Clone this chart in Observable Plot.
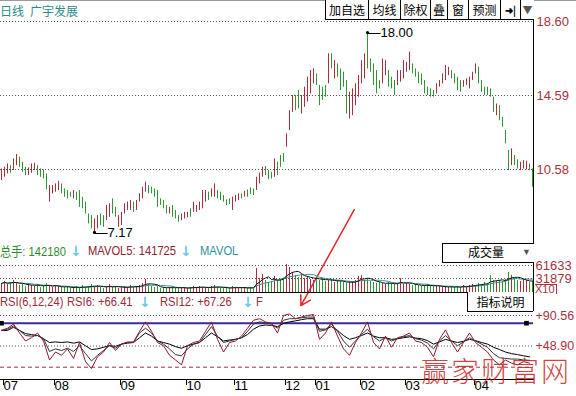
<!DOCTYPE html>
<html>
<head>
<meta charset="utf-8">
<script src="https://cdn.jsdelivr.net/npm/d3@7"></script>
<script src="https://cdn.jsdelivr.net/npm/@observablehq/plot@0.6"></script>
<style>
html,body{margin:0;padding:0;background:#fff;}
#chart{position:relative;width:576px;height:396px;overflow:hidden;background:#fff;}
#chart svg{position:absolute;left:0;top:0;}
.t{position:absolute;white-space:nowrap;font-family:"Liberation Sans",Arial,"Noto Sans CJK SC",sans-serif;font-size:13px;line-height:14px;}
.cond{transform:scaleX(0.86);transform-origin:0 50%;}
.cn{font-family:"Noto Sans CJK SC",sans-serif;font-size:12px;}
.arr{font-weight:bold;font-size:14px;font-family:"DejaVu Sans",sans-serif;}
.btn{position:absolute;top:0;height:20px;border-left:1px solid #000;border-bottom:1px solid #000;box-sizing:border-box;text-align:center;line-height:19px;font-family:"Noto Sans CJK SC",sans-serif;font-size:12px;color:#000;background:#fff;}
</style>
</head>
<body>
<div id="chart"></div>
<script>
// ---------- data ----------
const hi = [
10.61,10.70,10.88,10.79,11.15,11.39,11.25,10.97,10.70,10.67,
10.88,10.92,10.79,10.61,10.56,10.34,9.71,9.71,9.80,9.94,
9.80,9.53,9.44,9.35,9.44,9.35,9.44,9.08,8.81,8.17,
8.08,7.90,8.08,8.17,8.08,8.63,8.72,8.99,8.53,8.08,
8.26,8.72,8.81,8.90,8.81,8.90,9.26,9.62,9.89,9.71,
9.62,9.53,9.44,8.99,8.90,8.63,8.53,8.63,8.36,8.08,
8.17,8.26,8.26,8.45,8.81,8.63,8.81,9.44,9.44,9.35,
9.53,9.80,9.44,9.35,9.17,8.94,8.99,9.08,9.17,9.26,
9.26,9.40,9.47,9.58,9.53,10.16,10.38,10.70,10.74,10.52,
10.43,11.15,10.97,11.34,11.45,12.51,13.77,14.59,14.59,14.86,
14.59,15.04,15.58,15.94,16.03,15.76,15.13,15.04,15.13,16.85,
16.85,16.48,16.30,16.03,15.85,15.40,14.77,14.95,15.22,15.67,
16.48,16.85,18.00,16.57,16.30,15.94,15.40,16.57,16.48,15.94,
15.58,15.40,15.94,15.94,16.48,16.39,16.94,16.30,16.03,15.85,
15.76,15.40,15.04,14.95,14.86,15.22,15.40,15.76,16.21,16.12,
15.94,15.76,15.58,15.40,15.40,15.49,15.58,15.85,16.30,16.12,
15.40,15.04,15.04,14.95,14.50,14.13,14.04,13.41,12.69,11.61,
11.70,11.34,11.10,10.97,11.06,11.03,10.88,10.61];
const lo = [
9.98,10.16,10.34,10.38,10.52,10.79,10.70,10.43,10.25,10.25,
10.38,10.52,10.25,10.16,10.07,9.47,8.81,9.26,9.35,9.44,
9.26,9.08,8.99,9.08,8.99,8.90,8.53,8.45,8.17,7.63,
7.36,7.17,7.36,7.54,7.45,7.81,7.99,8.17,7.99,7.45,
7.54,8.17,8.36,8.36,8.26,8.36,8.81,8.99,9.35,9.26,
9.26,9.08,8.53,8.63,8.45,8.17,8.17,7.99,7.90,7.72,
7.81,7.90,7.96,7.99,8.26,8.26,8.36,8.45,8.81,8.90,
9.08,9.08,8.99,8.90,8.81,8.63,8.68,8.36,8.81,8.90,
8.99,9.08,9.08,9.22,9.17,9.44,9.80,10.16,10.25,10.02,
10.07,10.16,10.25,10.70,10.97,11.79,12.69,13.68,13.77,13.86,
13.59,13.95,14.23,14.68,15.22,15.13,14.04,14.32,14.50,15.22,
16.03,15.49,15.58,14.86,15.04,13.59,13.32,13.50,14.04,14.50,
15.22,15.49,16.03,15.85,15.13,14.68,14.95,15.22,15.67,15.04,
14.95,14.59,15.13,15.31,15.49,15.85,15.94,15.76,15.58,15.22,
15.13,14.68,14.59,14.50,14.50,14.68,15.04,15.22,15.40,15.67,
15.49,15.22,14.86,14.77,15.04,15.13,14.95,15.40,15.76,15.22,
14.77,14.59,14.59,14.50,13.68,13.50,13.23,12.87,11.97,10.52,
10.79,10.79,10.61,10.52,10.61,10.56,10.52,9.62];
// r = up day (red), g = down day (green)
const dir = ("rrrgrrgggr"+"rrggggrrrr"+"ggggrggggg"+"grrggrrggr"+"rrrrgrrrrg"+
  "ggggggrggg"+"rrrgrrrrrg"+"rrgggggrrr"+"grgggrrrgg"+"grgggrrrgg"+
  "rrrrrggggr"+"grggggrrrr"+"rrgggggrrg"+"ggrrrrrggg"+"gggggrrrrr"+
  "ggggrrrrrg"+"gggggrgggg"+"rggrrrgg");
const vol = [
20610,25190,18320,22900,27480,20610,16030,18320,13740,20610,
16030,13740,18320,11450,16030,20610,13740,11450,16030,13740,
11450,11450,13740,9160,11450,13740,9160,16030,11450,13740,
18320,13740,16030,11450,9160,13740,18320,11450,13740,9160,
11450,13740,11450,16030,11450,13740,16030,20610,29770,18320,
13740,11450,13740,9160,11450,9160,11450,13740,9160,11450,
9160,11450,9160,11450,13740,11450,13740,11450,9160,11450,
13740,16030,11450,9160,9160,11450,9160,13740,11450,9160,
11450,11450,9160,11450,9160,54960,32060,41220,27480,22900,
25190,36640,27480,29770,32060,64120,57250,45800,38930,34350,
41220,32060,36640,29770,27480,34350,27480,32060,25190,27480,
29770,22900,27480,25190,22900,20610,22900,25190,27480,36640,
38930,27480,32060,25190,22900,20610,22900,20610,18320,22900,
20610,18320,20610,32060,18320,20610,18320,16030,18320,16030,
13740,16030,18320,16030,13740,13740,13740,11450,13740,11450,
13740,11450,13740,11450,16030,13740,16030,18320,16030,20610,
18320,22900,20610,38930,27480,25190,27480,25190,29770,45800,
38930,32060,27480,25190,29770,27480,22900,25190];
// RSI read every second bar
const rsi6 = [
70.2,73.2,78.9,66.7,55.8,60.2,66.7,55.8,29.8,40.7,
36.3,45.0,32.0,53.7,27.6,18.1,34.2,40.7,53.7,42.8,
51.5,54.5,53.7,68.9,81.9,68.9,53.7,49.3,36.3,29.8,
23.3,49.3,53.7,55.8,68.9,81.9,58.0,40.7,53.7,55.8,
62.4,73.2,84.1,86.2,81.9,79.7,66.7,90.6,92.7,86.2,
88.4,90.6,91.9,58.0,66.7,81.9,62.4,45.0,36.3,53.7,
66.7,81.9,53.7,45.0,62.4,47.2,60.2,62.4,66.7,55.8,
53.7,47.2,34.2,58.0,71.0,53.7,40.7,53.7,66.7,53.7,
47.2,40.7,29.8,23.3,29.8,25.5,23.3,27.6,25.5];
const rsi12 = [
70.2,71.9,76.3,70.2,63.2,62.4,63.2,58.9,41.5,45.0,
42.8,45.9,41.5,49.3,38.5,28.5,36.3,42.8,49.3,45.9,
51.5,53.7,54.5,66.7,73.2,66.7,55.8,51.5,45.0,37.2,
35.5,45.0,51.5,53.7,64.5,75.4,62.4,53.7,55.8,58.0,
60.2,68.9,78.9,81.9,80.6,78.9,73.2,84.1,86.2,86.2,
87.5,88.4,88.4,68.9,71.0,78.9,68.9,55.8,47.2,55.8,
64.5,71.9,61.5,55.8,60.2,55.8,58.9,61.5,63.2,58.9,
57.1,52.8,45.0,55.8,63.2,55.8,49.3,54.5,60.2,55.8,
51.5,47.2,38.5,32.9,32.0,31.1,31.1,29.8,29.4];
const rsi24 = [
70.2,70.2,74.5,70.2,65.8,64.5,63.2,58.9,53.7,54.5,
53.7,54.5,52.8,54.5,49.3,44.1,45.0,47.2,49.3,48.5,
51.5,52.8,53.7,60.2,66.7,62.4,55.8,53.7,51.5,48.0,
45.9,49.3,51.5,53.7,60.2,66.7,61.5,55.8,57.1,58.0,
60.2,64.5,71.9,76.3,77.5,77.1,75.4,79.7,81.9,83.2,
84.9,86.2,86.2,71.9,71.9,75.4,70.2,63.2,58.0,60.2,
63.2,66.7,62.4,60.2,60.2,58.0,58.9,60.2,61.5,59.8,
58.9,56.3,51.5,54.5,58.0,55.8,53.7,55.4,58.0,56.3,
53.7,51.5,47.2,44.1,40.7,38.5,37.2,35.5,34.2];
const priceTicks = [18.60, 14.59, 10.58];
const volTicks = [61633, 31879];
const rsiTicks = [90.56, 48.90];
const rsiBands = [80, 20];
const monthIdx = [0, 17, 39, 61, 77, 94, 104, 119, 134, 157];
const monthLab = ["07","08","09","10","11","12","01","02","03","04"];
const handleIdx = [0, 175];
const pointer = [{i1: 117.6, p1: 8.4, i2: 99.8, p2: 3.2}];

// ---------- drawing ----------
const FONT = '"Liberation Sans",Arial,sans-serif';
const RED = "#b02a3e", GREEN = "#2f9432", LABEL = "#a8323e";
const n = hi.length;
const bars = d3.range(n).map(i => ({i, hi: hi[i], lo: lo[i], up: dir[i] === "r", vol: vol[i]}));
const rsiRows = rsi6.map((v, k) => ({i: k * 2, r6: v, r12: rsi12[k], r24: rsi24[k]}));
const iMax = d3.maxIndex(hi), iMin = d3.minIndex(lo);
const extremes = [{i: iMax, v: hi[iMax]}, {i: iMin, v: lo[iMin]}];
const xOpt = {domain: [-0.5, n - 0.5], range: [-0.5, 3 * n - 0.5], axis: null};
const style = {background: "transparent", overflow: "visible", fontFamily: FONT, fontSize: "13px"};
const dotted = {stroke: "#555", strokeOpacity: 1, strokeDasharray: "1,2"};
const barColor = d => d.up ? RED : GREEN;

const price = Plot.plot({
  width: 576, height: 396, marginLeft: 0, marginRight: 43, marginTop: 0, marginBottom: 86,
  style, x: xOpt, color: {type: "identity"},
  y: {domain: [10.58, 18.60], range: [169, 21], axis: null},
  marks: [
    Plot.gridY(priceTicks, dotted),
    Plot.ruleX(bars, {x: "i", y1: "lo", y2: "hi", stroke: barColor, strokeWidth: 1}),
    Plot.axisY(priceTicks, {anchor: "right", tickSize: 0, tickPadding: 3, label: null,
      tickFormat: d => d.toFixed(2), fill: LABEL, fontSize: 13, fontFamily: FONT}),
    Plot.frame({anchor: "right", stroke: "#000"}),
    Plot.dot(extremes, {x: "i", y: "v", r: 1.6, fill: "#000", stroke: null}),
    Plot.text(extremes, {x: "i", y: "v", text: d => "\u2014" + d.v.toFixed(2), textAnchor: "start",
      dx: 0, fill: "#000", fontSize: 13, fontFamily: FONT}),
    Plot.arrow(pointer, {x1: "i1", y1: "p1", x2: "i2", y2: "p2", stroke: "#e8262a",
      strokeWidth: 1.5, headLength: 11})
  ]
});

const volume = Plot.plot({
  width: 576, height: 396, marginLeft: 0, marginRight: 43, marginTop: 0, marginBottom: 0,
  style, x: xOpt, color: {type: "identity"},
  y: {domain: [0, 61633], range: [292, 265], axis: null},
  marks: [
    Plot.gridY(volTicks, dotted),
    Plot.ruleX(bars, {x: "i", y1: 0, y2: "vol", stroke: barColor, strokeWidth: 1}),
    Plot.lineY(bars, Plot.windowY({k: 10, anchor: "end"}, {x: "i", y: "vol", stroke: "#2f9a9a", strokeWidth: 1})),
    Plot.lineY(bars, Plot.windowY({k: 5, anchor: "end"}, {x: "i", y: "vol", stroke: "#111", strokeWidth: 1})),
    Plot.ruleY([0], {stroke: "#000"}),
    Plot.axisY(volTicks, {anchor: "right", tickSize: 0, tickPadding: 2, label: null,
      tickFormat: d => String(d), fill: LABEL, fontSize: 13, fontFamily: FONT})
  ]
});

const rsi = Plot.plot({
  width: 576, height: 396, marginLeft: 0, marginRight: 43, marginTop: 0, marginBottom: 17,
  style, x: xOpt,
  y: {domain: [20, 90.56], range: [366.7, 315], axis: null},
  marks: [
    Plot.gridY(rsiTicks, dotted),
    Plot.ruleY([rsiBands[1]], {stroke: "#a03040", strokeDasharray: "4,3"}),
    Plot.ruleY([rsiBands[0]], {stroke: "#3b2a9e", strokeWidth: 2}),
    Plot.dot(handleIdx, {x: d => d, y: rsiBands[0], symbol: "square", r: 2.6, fill: "#000", stroke: null}),
    Plot.line(rsiRows, {x: "i", y: "r24", stroke: "#000", strokeWidth: 1}),
    Plot.line(rsiRows, {x: "i", y: "r12", stroke: "#333", strokeWidth: 1}),
    Plot.line(rsiRows, {x: "i", y: "r6", stroke: "#8b1a2a", strokeWidth: 1}),
    Plot.axisY(rsiTicks, {anchor: "right", tickSize: 0, tickPadding: 2, label: null,
      tickFormat: d => "+" + d.toFixed(2), fill: LABEL, fontSize: 12.5, fontFamily: FONT}),
    Plot.axisX(monthIdx, {anchor: "bottom", tickSize: 6, tickPadding: -5, textAnchor: "start", dx: 2,
      label: null, tickFormat: d => monthLab[monthIdx.indexOf(d)], fill: "#000", fontSize: 13, fontFamily: FONT}),
    Plot.frame({anchor: "bottom", stroke: "#000"})
  ]
});

const chart = document.getElementById("chart");
chart.append(price, volume, rsi);

// ---------- overlay texts ----------
function add(html, x, yc, color, cls, extra) {
  const d = document.createElement("div");
  d.className = "t " + (cls || "");
  d.innerHTML = html;
  d.style.left = x + "px";
  d.style.top = (yc - 7) + "px";
  d.style.color = color;
  if (extra) Object.assign(d.style, extra);
  chart.appendChild(d);
  return d;
}
// top grey border
const topLine = document.createElement("div");
Object.assign(topLine.style, {position: "absolute", left: "0", top: "0", width: "576px", height: "1px", background: "#9a9a9a"});
chart.appendChild(topLine);

add("日线", 0, 11, "#2c8c8c", "cn");
add("广宇发展", 30, 11, "#2c8c8c", "cn");

const btnEdges = [325, 368, 400, 430, 447, 468, 500, 520, 533];
const btnLabels = ["加自选", "均线", "除权", "叠", "窗", "预测", "<b>➜|</b>", "<span style='color:#555'>▼</span>"];
btnLabels.forEach((lab, k) => {
  const b = document.createElement("div");
  b.className = "btn";
  b.innerHTML = lab;
  b.style.left = btnEdges[k] + "px";
  b.style.width = (btnEdges[k + 1] - btnEdges[k] + (k === btnLabels.length - 1 ? 1 : 0)) + "px";
  if (k >= 6) b.style.fontSize = "10px";
  chart.appendChild(b);
});

const ARROW = "#6cc8ea";
add("<span style='font-family:\"Noto Sans CJK SC\"'>总手</span>: 142180", 0, 251, "#2e8b2e", "cond");
add("↓", 70, 251, ARROW, "arr");
add("MAVOL5: 141725", 88, 251, "#8b2232", "cond");
add("↓", 180, 251, ARROW, "arr");
add("MAVOL", 200, 251, "#2f8f9f", "cond");

const vbox = document.createElement("div");
Object.assign(vbox.style, {position: "absolute", left: "442px", top: "243px", width: "92px", height: "20px",
  boxSizing: "border-box", borderTop: "1px solid #000", borderLeft: "1px solid #000", borderBottom: "1px solid #000", background: "#fff"});
chart.appendChild(vbox);
add("成交量", 468, 252, "#000", "cn");
add("▼", 522, 252, "#555", "", {fontSize: "9px"});

add("X10", 535, 288, LABEL, "", {fontSize: "11px", borderTop: "1px solid " + LABEL, borderRight: "1px solid " + LABEL, paddingRight: "1px", lineHeight: "9px", top: "284px"});

add("RSI(6,12,24)", 0, 302, "#9b2a3a", "cond");
add("RSI6: +66.41", 67, 302, "#9b2a3a", "cond");
add("↓", 139, 302, ARROW, "arr");
add("RSI12: +67.26", 160, 302, "#9b2a3a", "cond");
add("↓", 242, 302, ARROW, "arr");
add("F", 256, 302, "#9b2a3a", "cond");

const ibox = document.createElement("div");
Object.assign(ibox.style, {position: "absolute", left: "467px", top: "292px", width: "66px", height: "20px",
  boxSizing: "border-box", borderLeft: "1px solid #000", borderBottom: "1px solid #000", background: "#fff",
  textAlign: "center", lineHeight: "19px", fontFamily: '"Noto Sans CJK SC",sans-serif', fontSize: "12px"});
ibox.textContent = "指标说明";
chart.appendChild(ibox);

add("赢家财富网", 421, 370, "rgba(205,30,30,0.85)", "cn",
  {fontSize: "28px", lineHeight: "28px", top: "356px", letterSpacing: "2px", fontWeight: "300"});
</script>
</body>
</html>
